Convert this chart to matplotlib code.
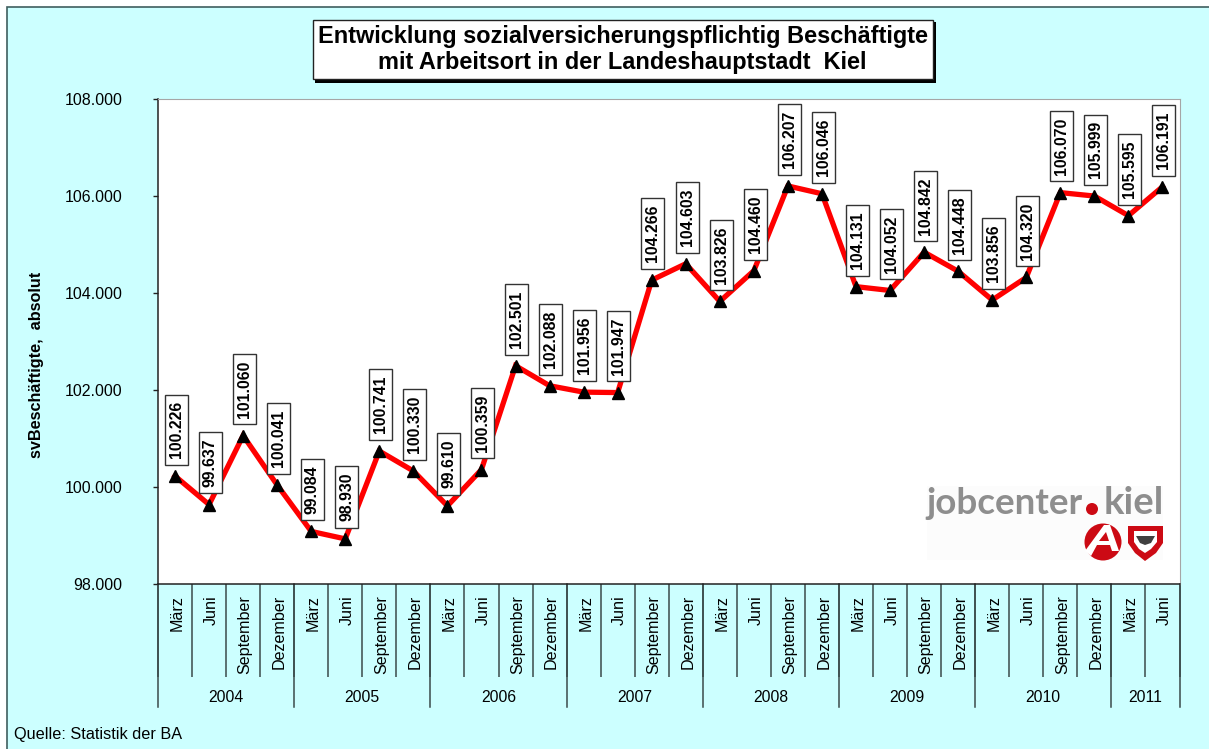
import matplotlib
matplotlib.use('Agg')
from matplotlib import pyplot as plt
from matplotlib import ticker
from matplotlib import transforms
from matplotlib.patches import Rectangle, Circle, Polygon
from matplotlib.path import Path

plt.rcParams['font.family'] = ['Liberation Sans', 'DejaVu Sans']

# data
months = ['März', 'Juni', 'September', 'Dezember'] * 7 + ['März', 'Juni']
years = ['2004', '2005', '2006', '2007', '2008', '2009', '2010', '2011']
year_counts = [4, 4, 4, 4, 4, 4, 4, 2]
values = [100226, 99637, 101060, 100041, 99084, 98930, 100741, 100330,
          99610, 100359, 102501, 102088, 101956, 101947, 104266, 104603,
          103826, 104460, 106207, 106046, 104131, 104052, 104842, 104448,
          103856, 104320, 106070, 105999, 105595, 106191]

W, H = 1209, 749
fig = plt.figure(figsize=(W / 100, H / 100), dpi=100, facecolor='white')
# pixel coordinates of the picture, y going down
px = transforms.Affine2D().scale(1.0 / W, -1.0 / H).translate(0, 1) + fig.transFigure


# label box: more padding along the text than across it
def label_box(x0, y0, w, h, mutation_size):
    pw, ph = 6.5, 4.0
    return Path([(x0 - pw, y0 - ph), (x0 + w + pw, y0 - ph), (x0 + w + pw, y0 + h + ph),
                 (x0 - pw, y0 + h + ph), (x0 - pw, y0 - ph)], closed=True)


# chart area background
fig.add_artist(Rectangle((7, 7), W, H, transform=px, facecolor='#CCFFFF', edgecolor='#3F5F5F', linewidth=1.2, zorder=-1))

ax = fig.add_axes([158.0 / W, 1 - 584.0 / H, 1021.5 / W, 485.0 / H])
ax.set_facecolor('white')
for s in ['top', 'right']:
    ax.spines[s].set_color('#A6A6A6')
for s in ['left', 'bottom']:
    ax.spines[s].set_color('#222222')
    ax.spines[s].set_linewidth(1.1)

xs = [i + 0.5 for i in range(len(values))]
ax.plot(xs, values, color='#FF0000', linewidth=3.8, solid_joinstyle='miter', zorder=3)
ax.plot(xs, values, linestyle='', marker='^', color='black', markersize=8.8, zorder=4)

for x, v in zip(xs, values):
    label = format(v, ',').replace(',', '.')
    ax.annotate(label, xy=(x, v), xytext=(0.9, 12.7), textcoords='offset points',
                rotation=90, ha='center', va='bottom', fontsize=11.4, fontweight='bold', zorder=6,
                bbox=dict(boxstyle=label_box, facecolor='white', edgecolor='#333333', linewidth=1.0))

ax.set_xlim(0, len(values))
ax.set_ylim(98000, 108000)

# y axis
ax.set_yticks(range(98000, 108001, 2000))
ax.yaxis.set_major_formatter(ticker.FuncFormatter(lambda v, p: format(int(v), ',').replace(',', '.')))
ax.tick_params(axis='y', length=3.6, width=1.0, color='#222222', pad=22, labelsize=11.5)
ax.set_ylabel('svBeschäftigte,  absolut', fontsize=11.7, fontweight='bold')
ax.yaxis.set_label_coords(44.0 / W, 1 - 365.0 / H, transform=fig.transFigure)

# month tier
ax.set_xticks(xs)
ax.set_xticklabels(months, rotation=90, fontsize=11.6)
ax.tick_params(axis='x', which='major', length=0, pad=8)
ax.set_xticks(range(len(values) + 1), minor=True)
ax.tick_params(axis='x', which='minor', length=67, width=1.1, color='#3A4A4A')
shift = transforms.ScaledTranslation(2.0 / 100, 0, fig.dpi_scale_trans)
for t in ax.get_xticklabels():
    t.set_transform(t.get_transform() + shift)

# year tier
trans = ax.get_xaxis_transform()
start = 0
seps = [0]
for yr, n in zip(years, year_counts):
    ax.text(start + n / 2.0, -(698.0 - 584.0) / 485.0, yr, transform=trans, ha='center', va='center', fontsize=11.3)
    start += n
    seps.append(start)
for s in seps:
    ax.plot([s, s], [0, -(707.0 - 584.0) / 485.0], transform=trans, clip_on=False, color='#3A4A4A', linewidth=1.1)

# title box with shadow
fig.add_artist(Rectangle((315, 22), 621, 61, transform=px, facecolor='black', edgecolor='none'))
fig.add_artist(Rectangle((312.5, 19.5), 620, 59, transform=px, facecolor='white', edgecolor='#222222', linewidth=1.0))
fig.text(622.5, 42.5, 'Entwicklung sozialversicherungspflichtig Beschäftigte', transform=px, ha='center', va='baseline',
         fontsize=16.9, fontweight='bold')
fig.text(622.5, 69, 'mit Arbeitsort in der Landeshauptstadt  Kiel', transform=px, ha='center', va='baseline',
         fontsize=16.9, fontweight='bold')

# source
fig.text(14, 735, 'Quelle: Statistik der BA', transform=px, ha='left', va='center', fontsize=11.7)

# logo
fig.add_artist(Rectangle((927, 486), 236, 74, transform=px, facecolor='#FCFCFC', edgecolor='none', zorder=5))
fig.text(926, 514, 'jobcenter', transform=px, ha='left', va='baseline', fontsize=26.5, fontweight='bold',
         family='Lato', color='#8E8E8E', zorder=6)
fig.text(1164, 514, 'kiel', transform=px, ha='right', va='baseline', fontsize=27.5, fontweight='bold',
         family='Lato', color='#8E8E8E', zorder=6)
fig.add_artist(Circle((1092, 509), 6, transform=px, facecolor='#CC0A14', edgecolor='none', zorder=6))
fig.add_artist(Circle((1103, 542), 18.5, transform=px, facecolor='#CC0A14', edgecolor='none', zorder=6))
fig.add_artist(Polygon([(1085, 551), (1104, 525), (1110, 525), (1119, 551), (1112, 551), (1110, 545), (1097, 545), (1091, 556)],
                       transform=px, facecolor='white', edgecolor='none', zorder=7))
fig.add_artist(Polygon([(1099, 541), (1106, 532), (1109, 541)], transform=px, facecolor='#CC0A14', edgecolor='none', zorder=8))
fig.add_artist(Polygon([(1128, 526), (1163, 526), (1163, 543), (1156, 553), (1145, 561), (1135, 553), (1128, 543)],
                       transform=px, facecolor='#CC0A14', edgecolor='none', zorder=6))
fig.add_artist(Polygon([(1134, 531), (1157, 531), (1157, 542), (1151, 549), (1145, 553), (1139, 549), (1134, 542)],
                       transform=px, facecolor='white', edgecolor='none', zorder=7))
fig.add_artist(Polygon([(1136, 536), (1155, 536), (1151, 543), (1145, 545), (1140, 543)],
                       transform=px, facecolor='#404040', edgecolor='none', zorder=8))

plt.savefig('out.png', dpi=100)
plt.close()
